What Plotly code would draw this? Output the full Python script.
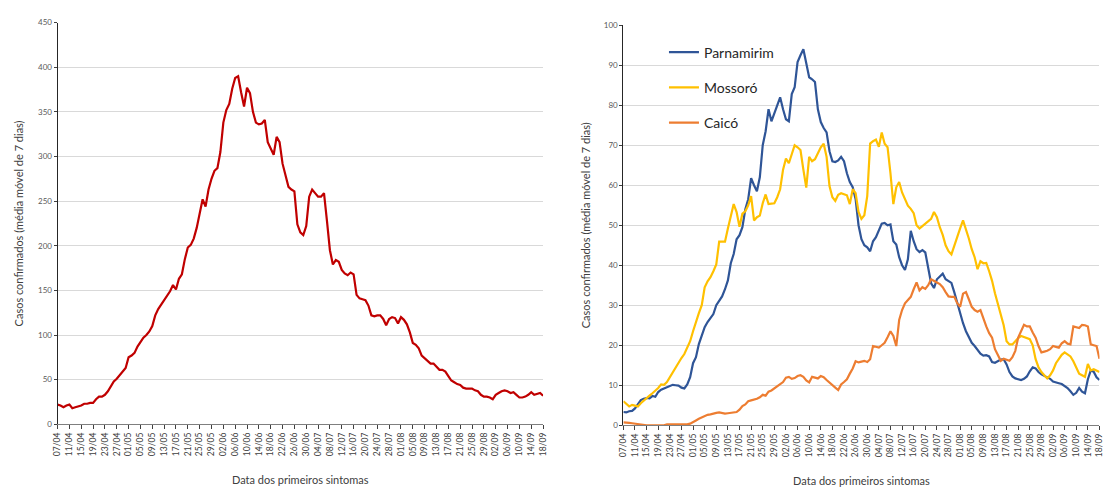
import pandas as pd
import plotly.graph_objects as go

# Daily dates (first symptoms), 07/04 to 18/09
dates = pd.date_range("2020-04-07", "2020-09-18", freq="D")

# RN state total: confirmed cases, 7-day moving average
rn_total = [
    22, 21, 19, 21, 22, 18, 19, 20, 21, 23, 23, 24, 24, 28, 31, 31, 33, 37, 42, 48,
    51, 55, 59, 63, 75, 77, 80, 87, 92, 97, 100, 104, 110, 122, 129, 134, 138, 143, 149, 156,
    151, 163, 168, 185, 198, 201, 208, 220, 235, 252, 244, 263, 275, 284, 287, 305, 338, 352, 359, 376,
    388, 390, 372, 356, 377, 371, 350, 338, 336, 337, 341, 316, 309, 302, 322, 316, 292, 278, 266, 263,
    261, 224, 215, 212, 222, 255, 263, 259, 255, 255, 259, 228, 195, 179, 184, 182, 173, 169, 167, 170,
    168, 145, 141, 140, 139, 133, 122, 121, 122, 122, 118, 111, 118, 120, 119, 113, 120, 117, 112, 103,
    91, 89, 85, 77, 74, 70, 68, 68, 65, 61, 61, 59, 54, 49, 47, 45, 44, 41, 40, 40,
    40, 38, 37, 33, 31, 31, 30, 28, 33, 35, 37, 38, 37, 35, 36, 33, 30, 30, 31, 33,
    36, 33, 34, 35, 32,
]

parnamirim = [
    3.3, 3.2, 3.5, 3.6, 4.2, 5.2, 6.3, 6.6, 6.8, 6.7, 7.3, 7.1, 8.3, 8.9, 9.2, 9.6, 10.0, 10.1, 10.0, 9.9,
    9.4, 9.2, 10.2, 12.0, 15.5, 17.0, 20.3, 22.5, 24.5, 25.8, 26.8, 27.8, 30.0, 31.2, 32.2, 34.0, 36.2, 40.5, 42.8, 46.5,
    47.5, 49.5, 54.0, 56.5, 61.8, 60.0, 58.5, 62.0, 70.0, 73.5, 79.0, 76.0, 78.0, 80.0, 82.0, 79.0, 76.5, 76.0, 82.8, 84.5,
    90.8, 92.5, 94.0, 90.5, 87.0, 86.5, 85.8, 79.0, 75.8, 74.3, 73.2, 68.5, 66.0, 65.8, 66.2, 67.1, 66.0, 63.0, 60.8, 59.5,
    56.5, 50.0, 46.5, 45.0, 44.5, 43.5, 46.0, 47.0, 48.5, 50.4, 50.6, 50.0, 50.2, 46.0, 45.2, 42.0, 40.0, 38.8, 41.5, 48.6,
    46.0, 44.0, 43.3, 43.8, 43.2, 39.5, 35.5, 34.3, 36.5, 37.2, 37.9, 36.5, 36.0, 35.6, 33.2, 30.5, 27.8, 25.5, 23.5, 21.9,
    20.6, 19.8, 18.8, 17.9, 17.4, 17.5, 17.2, 15.8, 15.6, 16.0, 16.4, 16.5, 15.2, 13.3, 12.2, 11.7, 11.5, 11.3, 11.6, 12.2,
    13.5, 14.5, 14.2, 13.3, 12.7, 12.4, 12.1, 11.6, 10.9, 10.6, 10.5, 10.3, 9.9, 9.3, 8.5, 7.6, 8.1, 9.3, 8.4, 8.0,
    11.5, 13.7, 13.4, 12.0, 11.3,
]

mossoro = [
    6.0, 5.3, 4.7, 5.1, 4.8, 4.7, 5.5, 6.2, 6.8, 7.4, 8.0, 8.6, 9.3, 10.2, 10.1, 10.8, 12.0, 13.5, 14.6, 15.7,
    16.8, 17.8, 19.3, 21.0, 23.5, 26.0, 28.0, 30.0, 34.5, 36.0, 37.0, 38.5, 40.2, 45.9, 45.9, 45.9, 49.2, 52.5, 55.3, 53.3,
    49.6, 52.9, 53.5, 55.0, 57.3, 51.2, 52.0, 52.4, 55.5, 57.7, 55.3, 55.4, 55.5, 57.0, 59.0, 63.9, 66.7, 65.5, 67.5, 70.0,
    69.5, 68.8, 63.9, 59.4, 67.1, 66.0, 66.5, 67.9, 69.5, 70.4, 67.1, 59.8, 57.0, 56.1, 57.6, 58.0, 57.7, 57.5, 55.3, 59.0,
    58.0, 53.3, 51.6, 52.5, 57.3, 70.4, 71.0, 71.4, 69.6, 73.2, 70.4, 69.5, 63.0, 55.3, 59.5, 60.8, 58.2, 56.5, 54.9, 54.1,
    53.0, 50.0, 49.2, 49.8, 50.4, 51.0, 51.6, 53.3, 52.0, 49.5, 47.6, 45.0, 43.5, 42.7, 45.0, 47.0, 49.2, 51.2, 49.0, 46.7,
    44.0, 42.0, 39.0, 41.0, 40.5, 40.6, 38.5, 36.1, 33.0, 30.5, 28.0, 25.0, 21.0, 20.2, 20.2, 21.0, 21.8, 22.3, 22.0, 21.9,
    21.5, 20.0, 16.5, 14.5, 13.3, 12.5, 11.7, 12.5, 13.7, 15.5, 16.6, 17.6, 18.2, 17.8, 17.2, 16.0, 14.5, 12.9, 12.5, 12.1,
    15.3, 13.7, 14.0, 13.7, 13.3,
]

caico = [
    0.7, 0.7, 0.6, 0.5, 0.4, 0.2, 0.1, 0.0, 0.0, 0.0, 0.0, 0.0, 0.0, 0.0, 0.0, 0.2, 0.2, 0.2, 0.2, 0.2,
    0.2, 0.2, 0.2, 0.4, 0.7, 1.2, 1.6, 2.0, 2.3, 2.6, 2.7, 3.0, 3.1, 3.2, 3.0, 2.9, 3.0, 3.1, 3.1, 3.3,
    3.9, 4.8, 5.2, 6.0, 6.2, 6.4, 6.6, 7.0, 7.6, 7.4, 8.4, 8.7, 9.2, 9.8, 10.4, 10.8, 11.9, 12.1, 11.6, 11.8,
    12.3, 12.5, 12.1, 11.2, 10.7, 12.1, 11.9, 11.7, 12.3, 12.0, 11.3, 10.6, 10.0, 9.4, 8.8, 10.2, 10.8, 11.5, 12.9, 14.2,
    16.0, 15.7, 15.9, 16.1, 15.8, 16.5, 19.8, 19.6, 19.4, 20.0, 20.6, 22.0, 23.5, 22.3, 19.8, 26.3, 28.8, 30.5, 31.2, 32.1,
    34.0, 35.7, 33.7, 34.5, 34.1, 35.0, 36.5, 36.2, 35.7, 35.3, 34.5, 33.3, 32.2, 32.1, 32.1, 30.5, 29.6, 32.9, 33.3, 31.5,
    29.6, 28.8, 28.4, 28.8, 26.5, 24.7, 23.0, 21.9, 19.0, 17.5, 16.1, 16.6, 16.4, 16.1, 17.0, 18.6, 21.9, 23.5, 25.1, 24.7,
    24.7, 23.2, 21.9, 19.8, 18.2, 18.4, 18.6, 19.0, 19.8, 19.6, 19.4, 20.5, 21.0, 20.4, 20.2, 24.7, 24.5, 24.3, 25.1, 25.0,
    24.7, 20.2, 20.0, 19.8, 16.6,
]

FONT = "Lato, 'Open Sans', sans-serif"
TICK_COLOR = "#595959"
GRID = "#D9D9D9"
Y_TITLE = "Casos confirmados (média móvel de 7 dias)"
X_TITLE = "Data dos primeiros sintomas"

fig = go.Figure()

fig.add_trace(go.Scatter(
    x=dates, y=rn_total, mode="lines", xaxis="x", yaxis="y",
    line=dict(color="#C00000", width=2.2), showlegend=False,
))

for name, values, color in [
    ("Parnamirim", parnamirim, "#2F5597"),
    ("Mossoró", mossoro, "#FFC000"),
    ("Caicó", caico, "#ED7D31"),
]:
    fig.add_trace(go.Scatter(
        x=dates, y=values, mode="lines", name=name, legendgroup=name,
        xaxis="x2", yaxis="y2", line=dict(color=color, width=2.2),
    ))

x_common = dict(
    type="date",
    tick0="2020-04-07",
    dtick=4 * 86400000,
    tickformat="%d/%m",
    tickangle=-90,
    ticks="outside",
    ticklen=4,
    tickcolor="#404040",
    tickfont=dict(family=FONT, size=8.5, color="#404040"),
    showgrid=False,
    showline=True,
    linecolor="#7F7F7F",
    linewidth=1,
    zeroline=False,
    title=dict(text=X_TITLE, font=dict(family=FONT, size=11, color="#404040"), standoff=21),
    range=[dates[0], dates[-1]],
)

y_common = dict(
    ticks="outside",
    ticklen=3,
    tickcolor="#404040",
    tickfont=dict(family=FONT, size=8, color=TICK_COLOR),
    showgrid=True,
    gridcolor=GRID,
    gridwidth=1,
    showline=True,
    linecolor="#262626",
    linewidth=1,
    zeroline=False,
)

fig.update_layout(
    width=1107,
    height=489,
    margin=dict(l=0, r=0, t=0, b=0),
    paper_bgcolor="white",
    plot_bgcolor="white",
    font=dict(family=FONT, color="#404040"),
    xaxis=dict(x_common, domain=[0.0479, 0.4905], anchor="y"),
    yaxis=dict(
        y_common, domain=[0.1247, 0.9632], anchor="x", range=[0, 450], dtick=50,
        title=dict(text=Y_TITLE, font=dict(family=FONT, size=11, color="#404040"), standoff=12),
    ),
    xaxis2=dict(x_common, domain=[0.5637, 0.9977], anchor="y2"),
    yaxis2=dict(
        y_common, domain=[0.1227, 0.9577], anchor="x2", range=[0, 100], dtick=10,
        title=dict(text=Y_TITLE, font=dict(family=FONT, size=11, color="#404040"), standoff=10),
    ),
    legend=dict(
        x=0.6007, y=0.934, xanchor="left", yanchor="top",
        traceorder="grouped", tracegroupgap=14,
        font=dict(family=FONT, size=14, color="#262626"),
        bgcolor="rgba(0,0,0,0)", itemwidth=30,
    ),
)

fig.write_html("out.html")
